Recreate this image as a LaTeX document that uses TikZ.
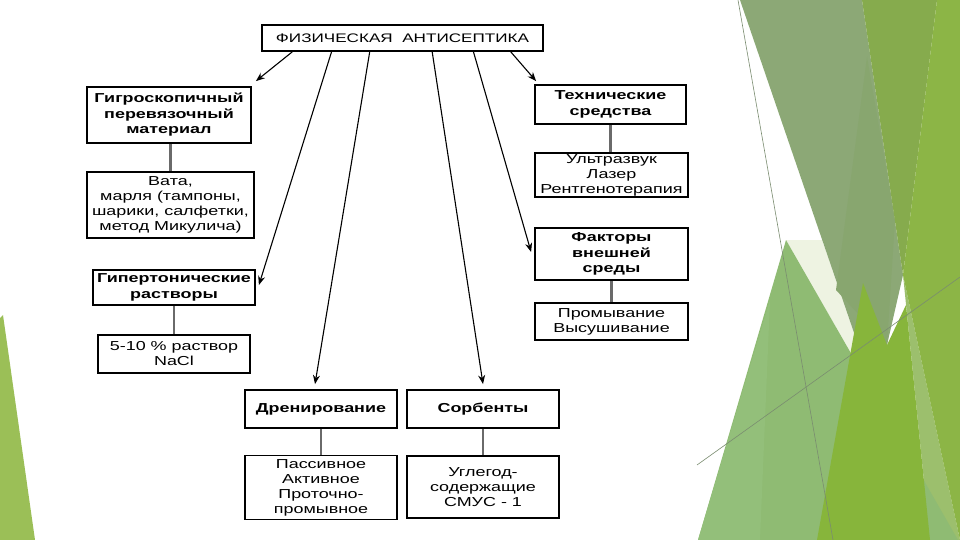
\documentclass[tikz,border=0pt]{standalone}
\usepackage{fontspec}
\setmainfont{Liberation Sans}[FakeStretch=1.38]
\usetikzlibrary{arrows.meta,calc}
\definecolor{grayg}{HTML}{8CA876}
\definecolor{grayg2}{HTML}{88A66F}
\definecolor{oliveg}{HTML}{86AB4D}
\definecolor{brightg}{HTML}{8CB546}
\definecolor{midg}{HTML}{87B53B}
\definecolor{leftg}{HTML}{8FBB73}
\definecolor{leftg2}{HTML}{93BF7A}
\definecolor{bandg}{HTML}{9CBF6D}
\definecolor{lightg}{HTML}{EEF3E2}
\definecolor{sliver}{HTML}{9BBF57}
\definecolor{thinl}{HTML}{7A8C70}
\definecolor{linkc}{HTML}{6A6A6A}
\begin{document}
\begin{tikzpicture}[x=1pt,y=-1pt,
  box/.style={draw=black, line width=1.8pt, fill=white, inner sep=0pt, align=center,
    font=\fontsize{13}{15}\selectfont, text=black},
  hbox/.style={box, font=\fontsize{13}{15.5}\selectfont\bfseries},
  arr/.style={line width=1.1pt, -{Stealth[length=9pt,width=7pt]}},
  link/.style={draw=linkc, line width=2.2pt}]
\useasboundingbox (0,0) rectangle (960,540);
\fill[white] (0,0) rectangle (960,540);
% background facets
\fill[sliver] (0,318) -- (3,315) -- (35,540) -- (0,540) -- cycle;
\fill[lightg] (786,240) -- (822,240) -- (876,397) -- cycle;
\fill[grayg] (740,0) -- (862,0) -- (903,275) -- (887,345) -- (876,397) -- cycle;
\fill[grayg2] (867,57) -- (895,220) -- (887,345) -- (836,290) -- cycle;
\fill[oliveg] (862,0) -- (937,0) -- (903,275) -- cycle;
\fill[bandg] (903,275) -- (930,540) -- (960,540) -- cycle;
\fill[brightg] (937,0) -- (960,0) -- (960,540) -- (903,275) -- cycle;
\fill[leftg] (786,240) -- (698,540) -- (958,540) -- cycle;
\fill[leftg2] (770,300) -- (698,540) -- (760,540) -- cycle;
\fill[midg] (863,283) -- (817,540) -- (930,540) -- (906,305) -- (887,345) -- cycle;
\draw[thinl, line width=0.6pt] (738,0) -- (833,540);
\draw[thinl, line width=0.6pt] (697,465) -- (960,277);
% title
\node[box, font=\fontsize{12.4}{14}\selectfont, minimum width=281pt, minimum height=26pt] (T) at (402.5,38) {ФИЗИЧЕСКАЯ\ \ АНТИСЕПТИКА};
% left column
\node[hbox, minimum width=164pt, minimum height=56pt] (A) at (169,115) {Гигроскопичный\\перевязочный\\материал};
\node[box, minimum width=167pt, minimum height=66pt] (A2) at (170.5,205) {Вата,\\марля (тампоны,\\шарики, салфетки,\\метод Микулича)};
\node[hbox, minimum width=162pt, minimum height=35pt] (B) at (174,287.5) {Гипертонические\\растворы};
\node[box, minimum width=152pt, minimum height=38pt] (B2) at (174,354) {5-10 \% раствор\\NaCl};
% right column
\node[hbox, minimum width=151pt, minimum height=39pt] (C) at (610.5,104.5) {Технические\\средства};
\node[box, minimum width=153pt, minimum height=44pt] (C2) at (611.5,175) {Ультразвук\\Лазер\\Рентгенотерапия};
\node[hbox, minimum width=153pt, minimum height=52pt] (D) at (611.5,254) {Факторы\\внешней\\среды};
\node[box, minimum width=153pt, minimum height=37pt] (D2) at (611.5,321.5) {Промывание\\Высушивание};
% bottom
\node[hbox, minimum width=152pt, minimum height=38pt] (E) at (321,409) {Дренирование};
\node[box, minimum width=152pt, minimum height=64pt] (E2) at (321,487.5) {Пассивное\\Активное\\Проточно-\\промывное};
\node[hbox, minimum width=152pt, minimum height=38pt] (F) at (483,409) {Сорбенты};
\node[box, minimum width=152pt, minimum height=62pt] (F2) at (483,487) {Углегод-\\содержащие\\СМУС - 1};
% connectors between boxes
\draw[link] (A2.north |- A.south) -- (A2.north);
\draw[link] (B.south) -- (B.south |- B2.north);
\draw[link] (C.south) -- (C.south |- C2.north);
\draw[link] (D.south) -- (D.south |- D2.north);
\draw[link] (E.south) -- (E.south |- E2.north);
\draw[link] (F.south) -- (F.south |- F2.north);
% arrows from title
\coordinate (t1) at ($(T.south west)!0.110!(T.south east)$);
\coordinate (t2) at ($(T.south west)!0.249!(T.south east)$);
\coordinate (t3) at ($(T.south west)!0.384!(T.south east)$);
\coordinate (t4) at ($(T.south west)!0.605!(T.south east)$);
\coordinate (t5) at ($(T.south west)!0.751!(T.south east)$);
\coordinate (t6) at ($(T.south west)!0.883!(T.south east)$);
\draw[arr] (t1) -- ([xshift=4pt,yshift=5pt]A.north east);
\draw[arr] (t2) -- ([xshift=3pt,yshift=2.5pt]B.east);
\draw[arr] (t3) -- ([xshift=-6pt,yshift=5pt]E.north);
\draw[arr] (t4) -- ([yshift=5pt]F.north);
\draw[arr] (t5) -- ([xshift=-3pt,yshift=2pt]D.west);
\draw[arr] (t6) -- ([xshift=2pt,yshift=3pt]C.north west);
\end{tikzpicture}
\end{document}
